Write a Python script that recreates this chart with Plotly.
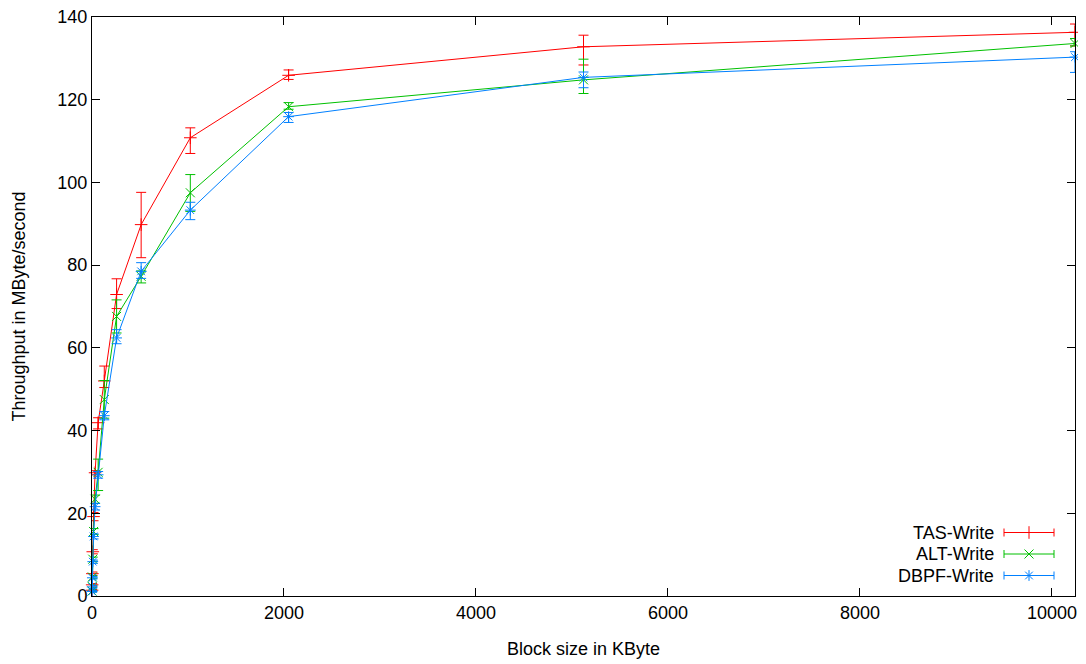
import plotly.graph_objects as go

# ---- data ----
block_kb = [1, 2, 4, 8, 16, 32, 64, 128, 256, 512, 1024, 2048, 5120, 10240]

tas_mean = [1.4, 2.7, 5.4, 10.7, 19.2, 29.8, 41.9, 52.0, 72.9, 89.8, 110.8, 125.9, 132.8, 136.3]
tas_plus = [0.2, 0.3, 0.4, 0.5, 1.0, 0.5, 1.2, 3.6, 3.8, 7.8, 2.4, 1.3, 2.8, 2.0]
tas_minus = [0.2, 0.3, 0.4, 0.5, 1.0, 0.5, 1.5, 1.6, 3.4, 8.0, 3.8, 1.0, 4.4, 3.3]

alt_mean = [1.2, 2.3, 4.6, 8.9, 15.6, 23.4, 29.9, 47.5, 67.6, 77.3, 97.5, 118.3, 124.8, 133.6]
alt_plus = [0.2, 0.3, 0.3, 0.5, 0.7, 1.0, 3.2, 4.6, 4.0, 1.3, 4.4, 1.0, 5.0, 1.2]
alt_minus = [0.2, 0.3, 0.3, 0.5, 0.7, 1.0, 4.4, 4.5, 4.0, 1.6, 4.5, 0.6, 3.3, 0.6]

dbpf_mean = [1.1, 2.2, 4.4, 8.3, 14.4, 21.6, 29.3, 43.6, 62.4, 78.5, 93.3, 115.9, 125.4, 130.3]
dbpf_plus = [0.2, 0.3, 0.3, 0.4, 0.6, 0.8, 0.8, 1.0, 2.0, 2.1, 1.9, 1.0, 1.3, 1.3]
dbpf_minus = [0.2, 0.3, 0.3, 0.4, 0.6, 0.8, 0.8, 1.0, 1.4, 1.7, 2.3, 1.4, 2.5, 3.7]

series_names = ["TAS-Write", "ALT-Write", "DBPF-Write"]
series_colors = ["#FF0000", "#00C000", "#0080FF"]
series_symbols = ["cross-thin", "x-thin", "asterisk"]

x_ticks = [0, 2000, 4000, 6000, 8000, 10000]
y_ticks = [0, 20, 40, 60, 80, 100, 120, 140]

FONT = "Liberation Sans, Arial, sans-serif"

# page body has an 8px margin; figure is sized to fill the rest of the window
OFF = 8
W, H = 1086 - OFF, 664 - OFF
# desired plot area in window pixels
L, R, T, B = 92, 1075, 17, 596

fig = go.Figure()
means = [tas_mean, alt_mean, dbpf_mean]
pluses = [tas_plus, alt_plus, dbpf_plus]
minuses = [tas_minus, alt_minus, dbpf_minus]

for name, col, sym, m, p, mi in zip(series_names, series_colors, series_symbols, means, pluses, minuses):
    fig.add_trace(go.Scatter(
        x=block_kb, y=m, name=name, mode="lines+markers",
        line=dict(color=col, width=1),
        marker=dict(symbol=sym, size=9, color=col, line=dict(color=col, width=1)),
        error_y=dict(type="data", symmetric=False, array=p, arrayminus=mi,
                     color=col, thickness=1, width=5),
        cliponaxis=False, showlegend=False,
    ))

# ---- custom gnuplot-style key (bottom right, text left of sample) ----
def px(x):
    return (x - L) / (R - L)
def py(y):
    return (B - y) / (B - T)

key_rows = [532.5, 554, 575.5]
for name, col, sym, yrow in zip(series_names, series_colors, series_symbols, key_rows):
    fig.add_annotation(xref="paper", yref="paper", x=px(996), y=py(yrow),
                       text=name, showarrow=False, xanchor="right", yanchor="middle",
                       font=dict(family=FONT, size=18, color="black"))
    fig.add_shape(type="line", xref="paper", yref="paper",
                  x0=px(1004), x1=px(1054), y0=py(yrow), y1=py(yrow),
                  line=dict(color=col, width=1))
    for xe in (1004, 1054):
        fig.add_shape(type="line", xref="paper", yref="paper",
                      x0=px(xe), x1=px(xe), y0=py(yrow - 4), y1=py(yrow + 4),
                      line=dict(color=col, width=1))
    fig.add_trace(go.Scatter(
        x=[px(1029)], y=[py(yrow)], xaxis="x2", yaxis="y2", mode="markers",
        marker=dict(symbol=sym, size=9, color=col, line=dict(color=col, width=1)),
        showlegend=False, hoverinfo="skip", cliponaxis=False,
    ))

axis_common = dict(
    showline=True, linecolor="black", linewidth=1, mirror="ticks",
    ticks="inside", ticklen=8, tickcolor="black", tickwidth=1,
    showgrid=False, zeroline=False, automargin=False,
    ticklabeloverflow="allow",
    tickfont=dict(family=FONT, size=18, color="black"),
)

fig.update_layout(
    width=W, height=H,
    margin=dict(l=L - OFF, r=W - (R - OFF), t=T - OFF, b=H - (B - OFF), autoexpand=False),
    plot_bgcolor="white", paper_bgcolor="white",
    font=dict(family=FONT, size=18, color="black"),
    xaxis=dict(range=[0, 10240], tickvals=x_ticks, ticktext=[str(v) for v in x_ticks],
               title=dict(text="Block size in KByte", standoff=20,
                          font=dict(family=FONT, size=18, color="black")),
               **axis_common),
    yaxis=dict(range=[0, 140], tickvals=y_ticks, ticktext=[str(v) for v in y_ticks],
               title=dict(text="Throughput in MByte/second", standoff=27,
                          font=dict(family=FONT, size=18, color="black")),
               **axis_common),
    xaxis2=dict(overlaying="x", range=[0, 1], visible=False, fixedrange=True),
    yaxis2=dict(overlaying="y", range=[0, 1], visible=False, fixedrange=True),
    showlegend=False,
)

fig.write_html("out.html")
